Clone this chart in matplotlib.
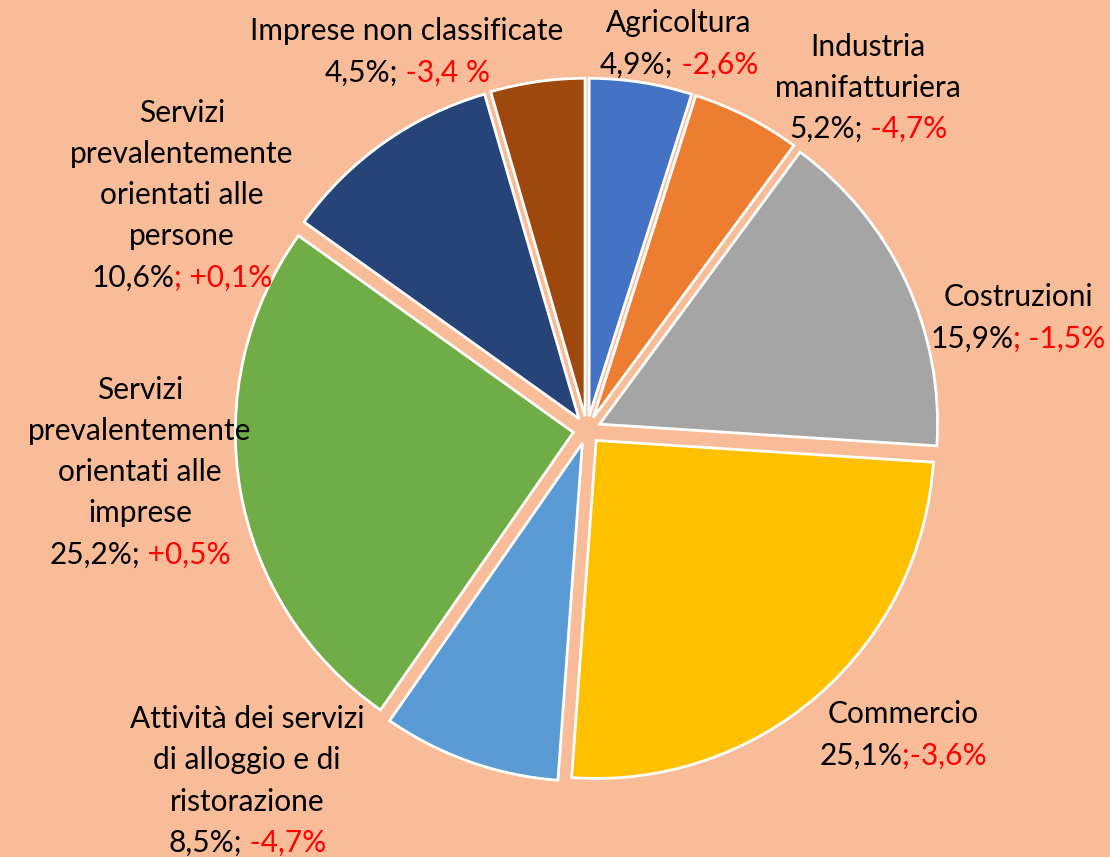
import matplotlib
matplotlib.use('Agg')
import matplotlib.pyplot as plt
from matplotlib.offsetbox import TextArea, HPacker, VPacker, AnnotationBbox

# Data (shares of firms by sector, % and yearly change)
sectors = ['Agricoltura',
           'Industria\nmanifatturiera',
           'Costruzioni',
           'Commercio',
           'Attività dei servizi\ndi alloggio e di\nristorazione',
           'Servizi\nprevalentemente\norientati alle\nimprese',
           'Servizi\nprevalentemente\norientati alle\npersone',
           'Imprese non classificate']
shares = [4.9, 5.2, 15.9, 25.1, 8.5, 25.2, 10.6, 4.5]
share_txt = ['4,9%;', '5,2%;', '15,9%', '25,1%', '8,5%;', '25,2%;', '10,6%', '4,5%;']
change_txt = [' -2,6%', ' -4,7%', '; -1,5%', ';-3,6%', ' -4,7%', ' +0,5%', '; +0,1%', ' -3,4 %']

colors = ['#4472C4', '#ED7D31', '#A5A5A5', '#FFC000',
          '#5B9BD5', '#70AD47', '#264478', '#9E480E']
bg = '#F8BD98'

# Layout (pixels in the 1110x857 picture)
W, H = 1110, 857
cx, cy, R = 587, 430, 338
label_px = [(679, 44), (868, 88), (1018, 318), (903, 735),
            (247, 781), (140, 472), (182, 195), (407, 52)]

plt.rcParams['font.family'] = ['Lato', 'DejaVu Sans']
fs = 21.5

fig = plt.figure(figsize=(W / 100, H / 100), dpi=100, facecolor=bg)
ax = fig.add_axes([0, 0, 1, 1])
ax.set_facecolor(bg)

ax.pie(shares, colors=colors, startangle=90, counterclock=False,
       explode=[0.041] * len(shares), radius=1,
       wedgeprops=dict(edgecolor='white', linewidth=2.0))

ax.set_xlim(-cx / R, (W - cx) / R)
ax.set_ylim(-(H - cy) / R, cy / R)
ax.set_aspect('auto')
ax.axis('off')

# Labels: black name + share, red change
for name, s, c, (px, py) in zip(sectors, share_txt, change_txt, label_px):
    rows = [TextArea(line, textprops=dict(color='black', fontsize=fs))
            for line in name.split('\n')]
    last = HPacker(children=[TextArea(s, textprops=dict(color='black', fontsize=fs)),
                             TextArea(c, textprops=dict(color='#FF0000', fontsize=fs))],
                   align='baseline', pad=0, sep=0)
    rows.append(last)
    box = VPacker(children=rows, align='center', pad=0, sep=9.5)
    ab = AnnotationBbox(box, (px / W, 1 - py / H), xycoords='figure fraction',
                        frameon=False, box_alignment=(0.5, 0.5))
    ax.add_artist(ab)

plt.savefig('out.png', dpi=100, facecolor=bg)
